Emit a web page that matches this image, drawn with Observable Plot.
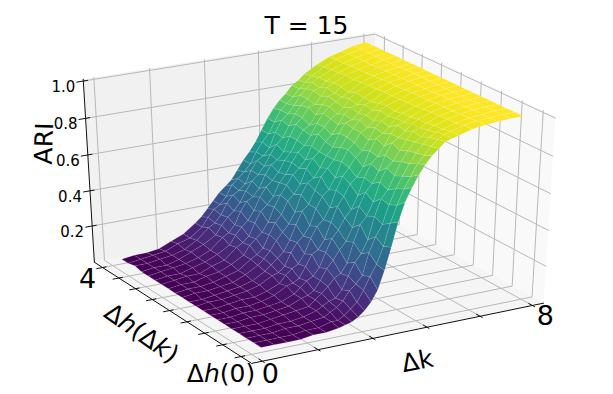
<!DOCTYPE html>
<html>
<head>
<meta charset="utf-8">
<script src="https://cdn.jsdelivr.net/npm/d3@7"></script>
<script src="https://cdn.jsdelivr.net/npm/@observablehq/plot@0.6"></script>
<style>
html,body{margin:0;padding:0;background:#fff}
svg{display:block}
</style>
</head>
<body>
<div id="chart"></div>
<script>
const zTicks = [0.2, 0.4, 0.6, 0.8, 1.0];
const kTicks = [0, 1.6, 3.2, 4.8, 6.4, 8];
const hTicks = [0, 0.5, 1, 1.5, 2, 2.5, 3, 3.5, 4];
const kLabels = ["0", "8"];
const hLabels = ["4", "Δh(0)"];
const kValues = [0,.4,.8,1.2,1.6,2.0,2.4,2.6,2.8,3.0,3.2,3.4,3.6,3.8,4.0,4.2,4.4,4.6,4.8,5.0,5.2,5.4,5.6,5.8,6.0,6.4,6.8,7.2,7.6,8.0];
const hValues = [0,.2,.4,.6,.8,1,1.2,1.4,1.6,1.8,2,2.2,2.4,2.6,2.8,3,3.2,3.4,3.6,3.8,4];

const h00 = [.02,.02,.02,.02,.03,.03,.04,.05,.06,.08,.11,.15,.21,.31,.43,.56,.66,.73,.79,.84,.88,.91,.94,.95,.96,.98,.99,.995,1,1];
const h02 = [.02,.02,.02,.02,.03,.03,.05,.05,.07,.10,.13,.19,.26,.32,.41,.53,.62,.70,.76,.82,.86,.90,.93,.95,.96,.98,.99,.995,1,1];
const h04 = [.02,.02,.02,.03,.03,.04,.05,.07,.09,.12,.17,.20,.24,.36,.44,.50,.60,.68,.74,.80,.85,.89,.92,.94,.95,.97,.985,.99,1,1];
const h06 = [.02,.02,.02,.03,.03,.04,.06,.08,.10,.11,.15,.22,.29,.33,.40,.52,.61,.65,.72,.79,.84,.88,.90,.93,.95,.97,.985,.995,1,1];
const h08 = [.02,.02,.02,.03,.04,.05,.06,.09,.12,.15,.19,.21,.26,.37,.46,.50,.57,.67,.74,.77,.82,.87,.91,.92,.94,.965,.98,.99,1,1];
const h10 = [.02,.02,.03,.03,.04,.05,.08,.09,.11,.16,.22,.26,.31,.35,.42,.53,.60,.64,.70,.78,.84,.86,.89,.92,.94,.965,.98,.99,.995,1];
const h12 = [.02,.02,.03,.03,.04,.05,.08,.11,.14,.16,.20,.28,.35,.39,.45,.49,.56,.65,.72,.75,.80,.86,.90,.91,.93,.96,.98,.99,.995,1];
const h14 = [.02,.02,.03,.03,.04,.06,.10,.11,.13,.19,.25,.27,.32,.41,.49,.54,.60,.63,.68,.76,.82,.84,.87,.91,.93,.955,.975,.99,.995,1];
const h16 = [.02,.02,.03,.04,.04,.06,.09,.13,.16,.18,.23,.31,.37,.40,.46,.55,.62,.66,.71,.74,.79,.85,.88,.90,.92,.955,.975,.985,.995,1];
const h18 = [.02,.03,.03,.04,.05,.07,.11,.12,.15,.22,.27,.30,.35,.44,.50,.53,.59,.67,.73,.76,.81,.83,.86,.91,.93,.95,.975,.985,.995,1];
const h20 = [.02,.02,.03,.04,.05,.07,.11,.14,.17,.20,.26,.34,.41,.44,.51,.58,.62,.66,.72,.77,.81,.85,.87,.89,.92,.95,.97,.985,.995,1];
const h22 = [.02,.03,.03,.04,.05,.08,.12,.15,.19,.24,.28,.32,.38,.47,.53,.55,.60,.66,.70,.77,.82,.83,.86,.90,.91,.95,.97,.985,.995,1];
const h24 = [.02,.03,.03,.04,.06,.08,.13,.15,.18,.25,.31,.35,.42,.45,.50,.58,.63,.66,.71,.74,.79,.84,.87,.88,.91,.945,.97,.98,.995,1];
const h26 = [.02,.03,.03,.05,.06,.09,.13,.18,.21,.24,.29,.37,.43,.48,.53,.56,.60,.67,.73,.76,.80,.82,.85,.89,.92,.945,.965,.98,.995,1];
const h28 = [.02,.03,.04,.04,.07,.09,.15,.17,.20,.27,.33,.36,.40,.47,.51,.57,.62,.65,.70,.76,.81,.84,.86,.88,.90,.94,.965,.98,.99,1];
const h30 = [.02,.03,.03,.05,.07,.10,.14,.19,.23,.26,.31,.38,.43,.46,.50,.56,.60,.66,.71,.73,.78,.83,.87,.88,.91,.935,.96,.98,.99,1];
const h32 = [.02,.03,.04,.05,.07,.10,.16,.18,.22,.29,.34,.36,.40,.47,.52,.54,.58,.66,.72,.75,.80,.81,.85,.89,.91,.94,.96,.975,.99,1];
const h34 = [.02,.03,.03,.05,.08,.11,.15,.20,.24,.27,.31,.37,.42,.45,.49,.55,.60,.63,.69,.75,.79,.82,.86,.87,.90,.935,.96,.975,.99,1];
const h36 = [.03,.03,.04,.05,.07,.11,.17,.19,.23,.29,.33,.35,.38,.45,.50,.52,.56,.64,.70,.73,.77,.82,.85,.88,.90,.93,.955,.975,.99,1];
const h38 = [.02,.03,.04,.05,.08,.10,.15,.20,.24,.26,.30,.36,.39,.42,.46,.52,.57,.61,.67,.73,.76,.79,.83,.86,.89,.925,.955,.975,.99,1];
const h40 = [.02,.03,.03,.04,.07,.10,.15,.18,.22,.26,.30,.33,.36,.41,.46,.50,.55,.61,.67,.72,.76,.79,.83,.85,.88,.92,.95,.97,.99,1];
const surfaceRows = [h00,h02,h04,h06,h08,h10,h12,h14,h16,h18,h20,h22,h24,h26,h28,h30,h32,h34,h36,h38,h40];

// camera of the 3D box
const elev = 30 * Math.PI / 180, azim = -120 * Math.PI / 180, dist = 10;
const n = [Math.cos(elev)*Math.cos(azim), Math.cos(elev)*Math.sin(azim), Math.sin(elev)];
const u = [-n[1], n[0], 0].map(d => d / Math.hypot(n[0], n[1]));
const v = [n[1]*u[2]-n[2]*u[1], n[2]*u[0]-n[0]*u[2], n[0]*u[1]-n[1]*u[0]];
const dot = (a, b) => a[0]*b[0] + a[1]*b[1] + a[2]*b[2];
const P = (x, y, z) => {
  const p = [x - .5, y - .5, z - .5];
  const depth = dist - dot(p, n);
  return {px: dot(p, u) / depth, py: dot(p, v) / depth, depth};
};

// data -> box fractions
const kSurf = k => 0.065 + 0.866 * k / 8;
const hSurf = h => 0.06 + 0.88 * h / 4;
const kAxis = k => 0.035 + 0.925 * k / 8;
const hAxis = h => 0.063 + 0.881 * h / 4;
const zF = z => (z + 0.01) / 1.02;

// panes
const paneLeft  = [[0,1,0],[1,1,0],[1,1,1],[0,1,1]].map(p => P(...p));
const paneRight = [[1,0,0],[1,1,0],[1,1,1],[1,0,1]].map(p => P(...p));
const paneFloor = [[0,0,0],[1,0,0],[1,1,0],[0,1,0]].map(p => P(...p));

// grid
const seg = (id, pts) => pts.map(p => ({...P(...p), id}));
let grid = [];
kTicks.forEach((k, i) => { const x = kAxis(k);
  grid = grid.concat(seg("k"+i, [[x,0,0],[x,1,0],[x,1,1]])); });
hTicks.forEach((h, i) => { const y = hAxis(h);
  grid = grid.concat(seg("h"+i, [[0,y,0],[1,y,0],[1,y,1]])); });
zTicks.forEach((z, i) => { const w = zF(z);
  grid = grid.concat(seg("z"+i, [[0,1,w],[1,1,w],[1,0,w]])); });

// axes + tick marks
let axes = [];
axes = axes.concat(seg("ax", [[0,1,0],[0,0,0],[1,0,0]]), seg("az", [[0,1,0],[0,1,1]]));
kTicks.forEach((k, i) => { const x = kAxis(k);
  axes = axes.concat(seg("tk"+i, [[x,-0.012,0],[x,0.02,0]])); });
hTicks.forEach((h, i) => { const y = hAxis(h);
  axes = axes.concat(seg("th"+i, [[-0.02,y,0],[0.012,y,0]])); });
zTicks.forEach((z, i) => { const w = zF(z);
  axes = axes.concat(seg("tz"+i, [[-0.022,1,w],[0.014,1,w]])); });

// surface facets, far ones first
const facets = [];
for (let r = 0; r < hValues.length - 1; r++) for (let c = 0; c < kValues.length - 1; c++) {
  const ids = [[c,r],[c+1,r],[c+1,r+1],[c,r+1],[c,r]];
  const corners = ids.map(([a,b]) => P(kSurf(kValues[a]), hSurf(hValues[b]), zF(surfaceRows[b][a])));
  facets.push({
    corners,
    value: d3.mean(ids.slice(0, 4), ([a,b]) => surfaceRows[b][a]),
    depth: d3.mean(corners, d => d.depth)
  });
}
facets.sort((a, b) => b.depth - a.depth);
const surfacePts = facets.flatMap((f, id) => f.corners.map(q => ({...q, id, value: f.value})));

const zLabelData = zTicks.map(z => ({...P(0, 1, zF(z)), t: z.toFixed(1)}));
const hAnchor = P(0, hAxis(4), 0), h0Anchor = P(0, hAxis(0), 0);
const kAnchor0 = P(kAxis(0), 0, 0), kAnchor8 = P(kAxis(8), 0, 0);

const chart = Plot.plot({
  width: 613, height: 394,
  margin: 0,
  style: {background: "white", fontFamily: "DejaVu Sans", color: "#000"},
  x: {domain: [0, 1], range: [315, 315 + 3370], axis: null},
  y: {domain: [0, 1], range: [191.7, 191.7 - 2135], axis: null},
  color: {type: "linear", scheme: "viridis", domain: [0.02, 1]},
  marks: [
    Plot.line(paneLeft,  {x: "px", y: "py", fill: "#f1f1f1", stroke: "none"}),
    Plot.line(paneRight, {x: "px", y: "py", fill: "#f9f9f9", stroke: "none"}),
    Plot.line(paneFloor, {x: "px", y: "py", fill: "#f5f5f5", stroke: "none"}),
    Plot.line(grid, {x: "px", y: "py", z: "id", stroke: "#b8b8b8", strokeWidth: 1}),
    Plot.line(axes, {x: "px", y: "py", z: "id", stroke: "#111", strokeWidth: 1}),
    Plot.line(surfacePts, {x: "px", y: "py", z: "id", fill: "value", stroke: "white", strokeOpacity: 0.16, strokeWidth: 0.6}),
    Plot.text(zLabelData, {x: "px", y: "py", text: "t", dx: -20, dy: 6, fontSize: 15, fill: "#000"}),
    Plot.text([{...hAnchor, t: hLabels[0]}], {x: "px", y: "py", text: "t", dx: -15, dy: 12, fontSize: 27, fill: "#000"}),
    Plot.text([{...h0Anchor, t: hLabels[1]}], {x: "px", y: "py", text: "t", dx: -20, dy: 17, fontSize: 25, fill: "#000"}),
    Plot.text([{...kAnchor0, t: kLabels[0]}], {x: "px", y: "py", text: "t", dx: 8, dy: 13, fontSize: 27, fill: "#000"}),
    Plot.text([{...kAnchor8, t: kLabels[1]}], {x: "px", y: "py", text: "t", dx: 13, dy: 11, fontSize: 27, fill: "#000"}),
    Plot.text([{t: "T = 15", px: (306 - 315) / 3370, py: (191.7 - 25) / 2135}], {x: "px", y: "py", text: "t", fontSize: 25, fill: "#000"}),
    Plot.text([{t: "ARI", px: (44 - 315) / 3370, py: (191.7 - 143) / 2135}], {x: "px", y: "py", text: "t", fontSize: 25, rotate: -88, fill: "#000"}),
    Plot.text([{t: "Δk", px: (417 - 315) / 3370, py: (191.7 - 361) / 2135}], {x: "px", y: "py", text: "t", fontSize: 25, rotate: -11, fill: "#000"}),
    Plot.text([{t: "Δh(Δk)", px: (141 - 315) / 3370, py: (191.7 - 333) / 2135}], {x: "px", y: "py", text: "t", fontSize: 25, rotate: 35, fill: "#000"})
  ]
});

// mathtext look: italic variables inside the axis labels
const italicize = new Map([["Δh(0)", ["Δ", "*h", "(0)"]], ["Δh(Δk)", ["Δ", "*h", "(Δ", "*k", ")"]]]);
chart.querySelectorAll("text").forEach(t => {
  const parts = italicize.get(t.textContent);
  if (!parts) return;
  t.textContent = "";
  parts.forEach(p => {
    const s = document.createElementNS("http://www.w3.org/2000/svg", "tspan");
    const it = p[0] === "*";
    s.textContent = it ? p.slice(1) : p;
    if (it) s.setAttribute("font-style", "italic");
    t.appendChild(s);
  });
});
document.getElementById("chart").appendChild(chart);
</script>
</body>
</html>
